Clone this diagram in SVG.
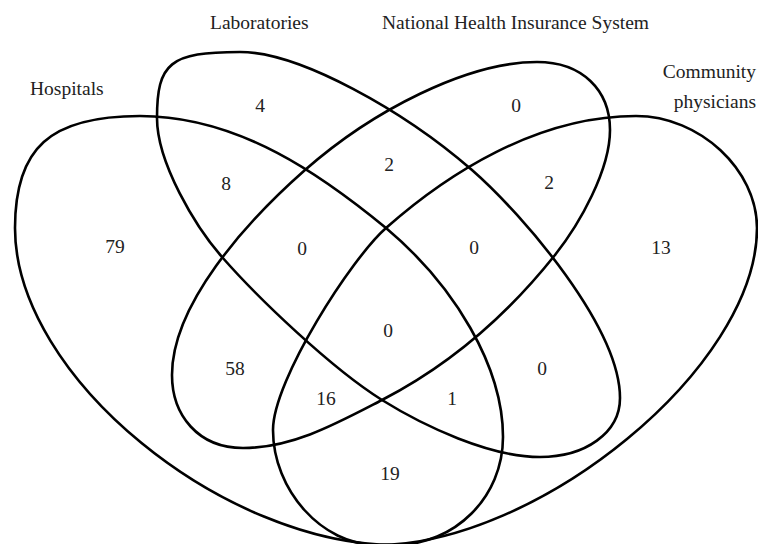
<svg xmlns="http://www.w3.org/2000/svg" width="758" height="544" viewBox="0 0 758 544">
<style>
.set{fill:none;stroke:#000;stroke-width:2.6}
.lbl{font-family:"Liberation Serif","Times New Roman",serif;font-size:19.5px;fill:#222}
.num{font-family:"Liberation Serif","Times New Roman",serif;font-size:19.5px;fill:#222;text-anchor:middle}
</style>
<rect width="758" height="544" fill="#fff"/>
<g id="hospitals">
<path class="set" d="M140,116 C240,116 324,177 386,228 C455,286 503,367 503,437 C503,497 455,545 395,545 C225,545 15,378 15,228 C15,148 50,116 140,116 Z"/>
<text class="lbl" x="30" y="95">Hospitals</text>
</g>
<g id="laboratories">
<path class="set" d="M240,52 C300,52 404,111 472,170 C524.5,216 620,328 620,398 C620,433 585,457 540,457 C490,457 424.5,426.5 382,400 C331,368 258,298 222,257 C195.6,227 157,163 157,118 C157,63 170,52 240,52 Z"/>
<text class="lbl" x="210" y="29">Laboratories</text>
</g>
<g id="nhis">
<path class="set" d="M537,62 C467,62 372.5,110.6 305,170 C245,222.8 172,305 172,375 C172,415 198,448 243,448 C293,448 337.5,423 382,400 C457.7,360.9 511.6,309.6 555,255 C579.8,223.8 610,170 610,130 C610,90 582,62 537,62 Z"/>
<text class="lbl" x="382" y="29">National Health Insurance System</text>
</g>
<g id="community">
<path class="set" d="M636,116 C536,116 446,175 386,228 C352,257.7 273,380 273,430 C273,490 322,545 377,545 C537,545 757,368 757,228 C757,170 700,116 636,116 Z"/>
<text class="lbl" x="756" y="78" text-anchor="end">Community</text>
<text class="lbl" x="756" y="108" text-anchor="end">physicians</text>
</g>
<g id="counts">
<text class="num" x="115" y="253">79</text>
<text class="num" x="260" y="112">4</text>
<text class="num" x="226" y="190">8</text>
<text class="num" x="302" y="255">0</text>
<text class="num" x="389" y="171">2</text>
<text class="num" x="516" y="112">0</text>
<text class="num" x="549" y="189">2</text>
<text class="num" x="474" y="254">0</text>
<text class="num" x="661" y="254">13</text>
<text class="num" x="388" y="337">0</text>
<text class="num" x="235" y="375">58</text>
<text class="num" x="326" y="405">16</text>
<text class="num" x="452" y="405">1</text>
<text class="num" x="542" y="375">0</text>
<text class="num" x="390" y="480">19</text>
</g>
</svg>
